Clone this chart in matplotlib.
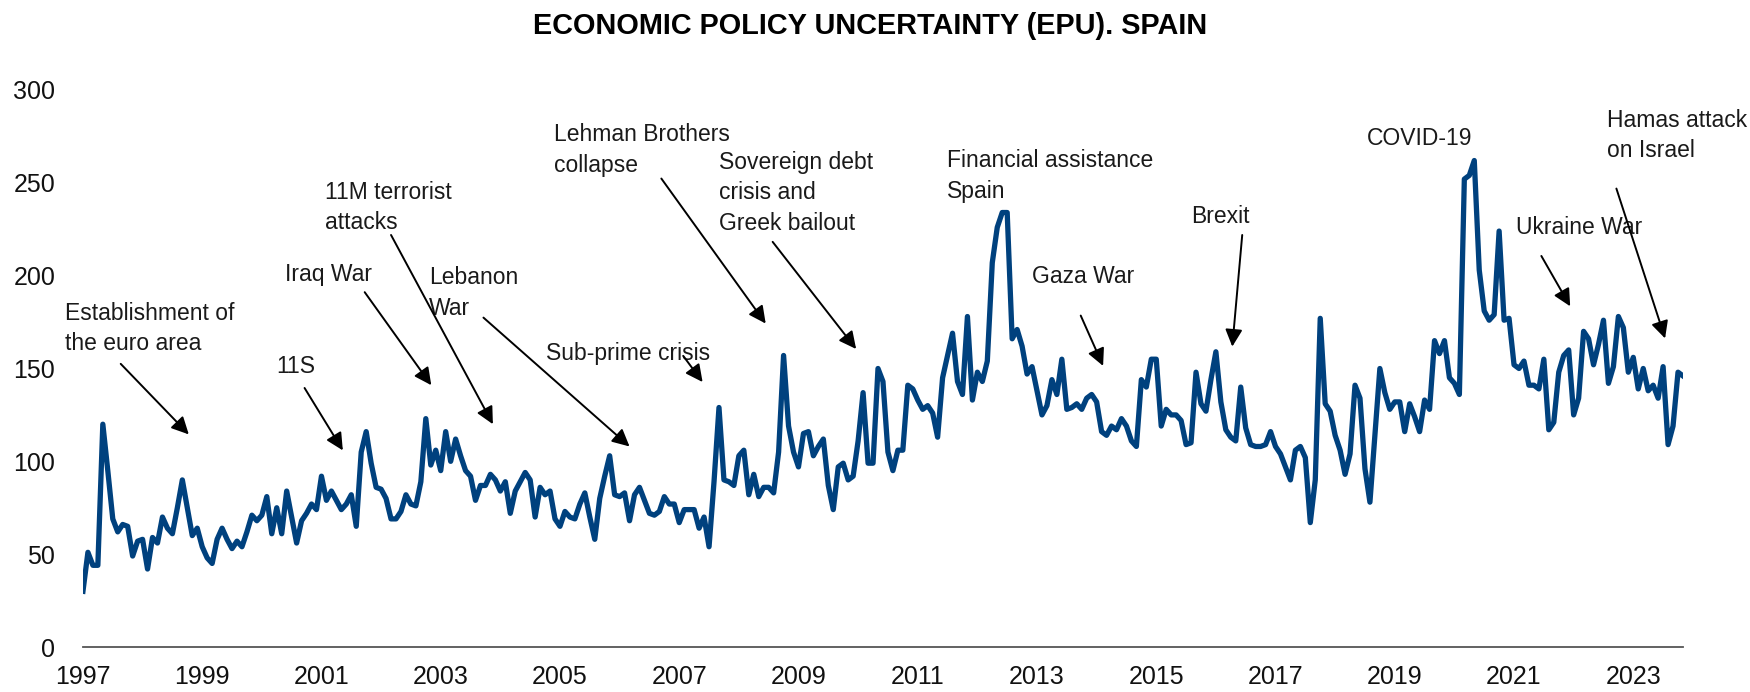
import numpy as np
import matplotlib.pyplot as plt

plt.rcParams['font.family'] = ['Liberation Sans', 'DejaVu Sans']

# Monthly EPU index for Spain, Jan 1997 - Nov 2023
start_year = 1997
epu = [
    30, 51, 44, 44, 120, 95, 69, 62, 66, 65, 49, 57,        # 1997
    58, 42, 59, 56, 70, 64, 61, 75, 90, 75, 60, 64,         # 1998
    54, 48, 45, 58, 64, 58, 53, 57, 54, 62, 71, 68,         # 1999
    71, 81, 61, 75, 61, 84, 70, 56, 68, 72, 77, 74,         # 2000
    92, 79, 84, 79, 74, 77, 82, 65, 105, 116, 99, 86,       # 2001
    85, 80, 69, 69, 73, 82, 77, 76, 89, 123, 98, 106,       # 2002
    95, 116, 100, 112, 103, 95, 92, 79, 87, 87, 93, 90,     # 2003
    84, 89, 72, 84, 89, 94, 90, 70, 86, 82, 84, 69,         # 2004
    65, 73, 70, 69, 77, 83, 70, 58, 80, 92, 103, 82,        # 2005
    81, 83, 68, 82, 86, 79, 72, 71, 73, 81, 77, 77,         # 2006
    67, 74, 74, 74, 64, 70, 54, 89, 129, 90, 89, 87,        # 2007
    103, 106, 82, 93, 81, 86, 86, 83, 105, 157, 119, 105,   # 2008
    97, 115, 116, 103, 108, 112, 87, 74, 97, 99, 90, 92,    # 2009
    111, 137, 99, 99, 150, 143, 105, 95, 106, 106, 141, 139,  # 2010
    133, 128, 130, 126, 113, 145, 157, 169, 143, 136, 178, 133,  # 2011
    148, 143, 154, 207, 226, 234, 234, 166, 171, 162, 147, 151,  # 2012
    138, 125, 130, 144, 136, 155, 128, 129, 131, 128, 134, 136,  # 2013
    132, 116, 114, 119, 117, 123, 119, 111, 108, 144, 140, 155,  # 2014
    155, 119, 128, 125, 125, 122, 109, 110, 148, 131, 127, 144,  # 2015
    159, 132, 117, 113, 111, 140, 118, 109, 108, 108, 109, 116,  # 2016
    108, 104, 97, 90, 106, 108, 102, 67, 90, 177, 131, 127,      # 2017
    114, 106, 93, 104, 141, 134, 96, 78, 114, 150, 137, 128,     # 2018
    132, 132, 116, 131, 124, 116, 133, 128, 165, 158, 165, 145,  # 2019
    142, 136, 252, 254, 262, 203, 181, 176, 179, 224, 176, 177,  # 2020
    152, 150, 154, 141, 141, 139, 155, 117, 121, 148, 157, 160,  # 2021
    125, 134, 170, 166, 152, 163, 176, 142, 151, 178, 172, 148,  # 2022
    156, 139, 150, 138, 141, 134, 151, 109, 119, 148, 146,       # 2023
]

year_ticks = list(range(1997, 2024, 2))
y_ticks = [0, 50, 100, 150, 200, 250, 300]

# events: label, text position (month index, value), arrow tail, arrow head
event_labels = [
    "Establishment of\nthe euro area", "11S", "Iraq War", "11M terrorist\nattacks",
    "Lebanon\nWar", "Sub-prime crisis", "Lehman Brothers\ncollapse",
    "Sovereign debt\ncrisis and\nGreek bailout", "Financial assistance\nSpain",
    "Gaza War", "Brexit", "COVID-19", "Ukraine War", "Hamas attack\non Israel",
]
event_text_pos = [
    (-3.6, 186), (39.0, 157), (40.7, 207), (48.7, 251), (69.6, 205), (93.1, 164),
    (94.8, 282), (128.0, 267), (173.9, 268), (191.0, 206), (223.1, 238),
    (258.3, 280), (288.3, 232), (306.8, 290),
]
event_arrow_from = [
    (7.6, 152.5), (44.6, 139.5), (56.7, 191.1), (62.0, 221.9), (80.6, 177.4),
    (120.8, 156.8), (116.4, 252.3), (138.8, 218.2), None, (200.8, 178.5),
    (233.3, 221.9), None, (293.5, 210.6), (308.6, 246.9),
]
event_arrow_to = [
    (21.3, 114.5), (52.3, 105.9), (70.1, 141.0), (82.5, 120.0), (110.0, 108.0),
    (124.7, 142.7), (137.4, 174.2), (155.6, 160.5), None, (205.3, 151.4),
    (231.3, 161.8), None, (299.3, 183.5), (318.4, 166.2),
]


def to_year(i):
    return start_year + i / 12


x = start_year + np.arange(len(epu)) / 12

fig = plt.figure(figsize=(17.5, 6.92), dpi=100)
ax = fig.add_axes([0.0474, 0.065, 0.9143, 0.805])

ax.plot(x, epu, color="#00417E", linewidth=3.8, solid_joinstyle="round")

ax.set_xlim(x[0], x[-1])
ax.set_ylim(0, 300)
ax.set_xticks(year_ticks)
ax.set_xticklabels([str(y) for y in year_ticks])
ax.set_yticks(y_ticks)
ax.tick_params(axis="x", length=0, pad=13, labelsize=18, colors="#111111")
ax.tick_params(axis="y", length=0, pad=20, labelsize=18, colors="#111111")

for side in ["top", "right", "left"]:
    ax.spines[side].set_visible(False)
ax.spines["bottom"].set_color("#555555")
ax.spines["bottom"].set_linewidth(1.3)

for label, (tx, ty), tail, head in zip(event_labels, event_text_pos,
                                       event_arrow_from, event_arrow_to):
    ax.text(to_year(tx), ty, label, fontsize=16.5, color="#1a1a1a",
            ha="left", va="top", linespacing=1.4, zorder=4)
    if tail is not None:
        ax.annotate("", xy=(to_year(head[0]), head[1]),
                    xytext=(to_year(tail[0]), tail[1]),
                    arrowprops=dict(arrowstyle="-|>", color="black", lw=1.4,
                                    mutation_scale=26, shrinkA=0, shrinkB=0),
                    zorder=5)

fig.text(0.497, 0.962, "ECONOMIC POLICY UNCERTAINTY (EPU). SPAIN",
         ha="center", va="center", fontsize=20.8, fontweight="bold", color="black")

fig.savefig("out.png", dpi=100)
